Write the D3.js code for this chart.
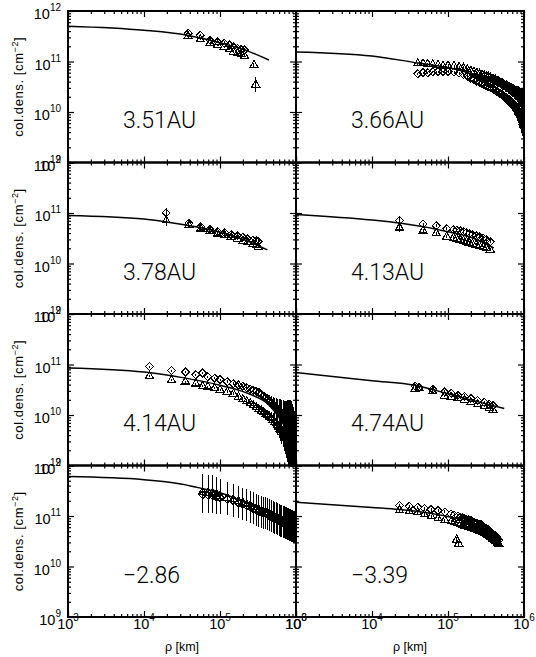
<!DOCTYPE html>
<html>
<head>
<meta charset="utf-8">
<script src="https://cdn.jsdelivr.net/npm/d3@7"></script>
<style>
body{margin:0;background:#fff}
text{font-family:"Liberation Sans",Arial,sans-serif;fill:#000}
.big{font-family:Roboto,"Liberation Sans",sans-serif;font-weight:300}
</style>
</head>
<body>
<svg id="chart" width="536" height="657"></svg>
<script>
// panel labels, left column then right column, row by row
const labels=["3.51AU","3.66AU","3.78AU","4.13AU","4.14AU","4.74AU","\u22122.86","\u22123.39"];

// column densities are log10 N [cm^-2], rho in km
// model curves
const curveRhoA=[1e3,1e4,3.7e4,1e5,2.2e5,4.4e5];
const curveNA=[11.70,11.62,11.52,11.37,11.22,11.03];
const curveRhoB=[1e3,1e4,4e4,1e5,2e5,4e5,7e5,1e6];
const curveNB=[11.19,11.11,10.97,10.88,10.76,10.58,10.36,10.05];
const curveRhoC=[1e3,1e4,2e4,1e5,2e5,4.2e5];
const curveNC=[10.95,10.88,10.82,10.62,10.48,10.27];
const curveRhoD=[1e3,1e4,2.3e4,1e5,2e5,4e5];
const curveND=[10.97,10.86,10.80,10.63,10.52,10.31];
const curveRhoE=[1e3,1e4,3.2e4,1e5,2.4e5,4.4e5,6e5,8e5,9.5e5];
const curveNE=[10.93,10.85,10.74,10.59,10.42,10.20,9.95,9.60,9.20];
const curveRhoF=[1e3,1e4,3.7e4,1e5,2.5e5,5.5e5];
const curveNF=[10.84,10.68,10.59,10.42,10.26,10.13];
const curveRhoG=[1e3,1e4,3.2e4,6e4,1e5,3e5,6e5,1e6];
const curveNG=[11.78,11.72,11.63,11.54,11.46,11.17,10.95,10.78];
const curveRhoH=[1e3,1e4,2.3e4,1e5,2e5,4.5e5];
const curveNH=[11.27,11.17,11.13,10.99,10.87,10.62];

// measured points: diamonds, triangles, error half-length (dex)
const rhoA=[3.8e4,5.5e4,7.4e4,9.3e4,1.14e5,1.33e5,1.5e5,1.7e5,1.9e5,2.1e5,2.8e5,2.95e5];
const diaA=[11.56,11.52,11.42,11.39,11.36,11.33,11.29,11.26,11.24,11.23,null,null];
const triA=[11.50,11.44,11.37,11.33,11.29,11.24,11.19,11.16,11.14,11.11,10.93,10.54];
const errA=[0.02,0.02,0.02,0.02,0.02,0.02,0.02,0.02,0.02,0.02,0.05,0.15];

const rhoB=[4.0e4,4.7e4,5.4e4,6.3e4,7.4e4,8.6e4,
  1.0e5,1.2e5,1.4e5,1.6e5,1.8e5,2.0e5,2.2e5,2.4e5,2.6e5,2.8e5,3.0e5,3.2e5,3.4e5,3.6e5,3.8e5,
  4.0e5,4.2e5,4.4e5,4.6e5,4.8e5,5.0e5,5.2e5,5.4e5,5.6e5,5.8e5,6.0e5,6.2e5,6.4e5,6.6e5,6.8e5,
  7.0e5,7.2e5,7.4e5,7.6e5,7.8e5,8.0e5,8.2e5,8.4e5,8.6e5,8.8e5,9.0e5,9.2e5,9.4e5,9.6e5,9.8e5];
const triB=[10.96,10.96,10.95,10.94,10.93,10.91,
  10.92,10.91,10.89,10.87,10.84,10.81,10.79,10.77,10.75,10.74,10.72,10.71,10.70,10.68,10.66,
  10.65,10.64,10.62,10.60,10.59,10.58,10.56,10.55,10.53,10.52,10.50,10.49,10.47,10.46,10.45,
  10.43,10.42,10.41,10.39,10.38,10.37,10.36,10.35,10.33,10.31,10.29,10.27,10.25,10.23,10.20];
const diaB=[10.76,10.78,10.78,10.80,10.80,10.80,
  10.80,10.79,10.77,10.74,10.71,10.67,10.64,10.61,10.58,10.56,10.54,10.52,10.50,10.49,10.47,
  10.45,10.43,10.41,10.39,10.37,10.35,10.33,10.31,10.29,10.27,10.25,10.23,10.21,10.19,10.17,
  10.15,10.13,10.11,10.09,10.07,10.05,10.03,10.01,9.97,9.93,9.89,9.85,9.80,9.75,9.70];
const errB=[0.02,0.02,0.02,0.02,0.02,0.02,
  0.03,0.03,0.03,0.04,0.04,0.04,0.05,0.05,0.05,0.06,0.06,0.06,0.07,0.07,0.07,
  0.08,0.08,0.08,0.09,0.09,0.09,0.10,0.10,0.10,0.11,0.11,0.11,0.12,0.12,0.12,
  0.13,0.13,0.13,0.14,0.14,0.14,0.15,0.16,0.17,0.18,0.19,0.20,0.21,0.22,0.23];

const rhoC=[1.96e4,3.9e4,5.6e4,7.3e4,9.3e4,1.15e5,1.4e5,1.7e5,2.0e5,2.3e5,2.7e5,3.0e5,3.2e5];
const diaC=[11.00,10.80,10.73,10.68,10.63,10.61,10.57,10.55,10.52,10.49,10.46,10.45,10.44];
const triC=[10.85,10.76,10.69,10.64,10.59,10.56,10.52,10.49,10.45,10.42,10.38,10.36,10.33];
const errC=[0.10,0.02,0.02,0.02,0.02,0.02,0.02,0.02,0.02,0.02,0.02,0.02,0.02];

const rhoD=[2.3e4,4.7e4,7.0e4,9.6e4,1.18e5,1.3e5,1.45e5,1.6e5,1.75e5,1.9e5,2.1e5,2.35e5,2.6e5,2.9e5,3.2e5,3.6e5];
const diaD=[10.85,10.78,10.75,10.69,10.67,10.66,10.65,10.63,10.61,10.59,10.57,10.55,10.53,10.50,10.47,10.43];
const triD=[10.71,10.65,10.60,10.53,10.51,10.49,10.47,10.45,10.43,10.41,10.39,10.37,10.35,10.32,10.30,10.27];
const errD=[0.08,0.03,0.03,0.03,0.03,0.03,0.03,0.03,0.03,0.03,0.03,0.03,0.03,0.03,0.03,0.03];

const rhoE=[1.18e4,2.3e4,3.5e4,4.8e4,5.9e4,6.9e4,8.5e4,
  1.0e5,1.25e5,1.5e5,1.75e5,2.0e5,2.25e5,2.5e5,2.75e5,3.0e5,3.25e5,3.5e5,3.75e5,
  4.0e5,4.25e5,4.5e5,4.75e5,5.0e5,5.25e5,5.5e5,5.75e5,6.0e5,6.25e5,6.5e5,6.75e5,
  7.0e5,7.25e5,7.5e5,7.75e5,8.0e5,8.25e5,8.5e5,8.75e5,9.0e5,9.25e5,9.5e5,9.75e5];
const diaE=[10.96,10.88,10.85,10.80,10.83,10.76,10.73,
  10.70,10.66,10.62,10.59,10.57,10.54,10.51,10.49,10.47,10.45,10.41,10.37,
  10.34,10.31,10.28,10.25,10.21,10.18,10.15,10.12,10.09,10.06,10.02,9.99,
  9.95,9.92,9.88,9.84,9.79,9.75,9.70,9.62,9.52,9.40,9.28,9.15];
const triE=[10.77,10.69,10.66,10.62,10.57,10.56,10.53,
  10.50,10.46,10.42,10.36,10.31,10.27,10.23,10.19,10.15,10.11,10.08,10.05,
  10.02,9.99,9.96,9.93,9.90,9.86,9.83,9.80,9.76,9.73,9.70,9.66,
  9.62,9.59,9.55,9.51,9.46,9.42,9.36,9.30,9.22,9.13,9.05,8.95];
const errE=[0.02,0.02,0.02,0.02,0.02,0.02,0.02,
  0.02,0.03,0.03,0.04,0.04,0.05,0.05,0.06,0.06,0.07,0.08,0.09,
  0.10,0.11,0.12,0.13,0.14,0.16,0.18,0.20,0.22,0.25,0.28,0.30,
  0.33,0.36,0.40,0.45,0.50,0.55,0.60,0.65,0.70,0.75,0.80,0.85];

const rhoF=[3.7e4,4.2e4,6.3e4,9.0e4,1.1e5,1.35e5,1.65e5,2.0e5,2.45e5,3.0e5,3.5e5,3.9e5];
const diaF=[10.57,10.55,10.51,10.46,10.43,10.39,10.37,10.33,10.29,10.25,10.21,10.19];
const triF=[10.52,10.53,10.47,10.38,10.36,10.33,10.30,10.25,10.21,10.17,10.14,10.10];
const errF=[0.02,0.02,0.02,0.02,0.02,0.02,0.02,0.02,0.02,0.02,0.03,0.05];

const rhoG=[5.9e4,7.0e4,8.0e4,9.0e4,
  1.0e5,1.25e5,1.5e5,1.75e5,2.0e5,2.25e5,2.5e5,2.75e5,3.0e5,3.25e5,3.5e5,3.75e5,
  4.0e5,4.25e5,4.5e5,4.75e5,5.0e5,5.25e5,5.5e5,5.75e5,6.0e5,6.25e5,6.5e5,6.75e5,
  7.0e5,7.25e5,7.5e5,7.75e5,8.0e5,8.25e5,8.5e5,8.75e5,9.0e5,9.25e5,9.5e5,9.75e5];
const diaG=[11.42,11.41,11.40,11.38,
  11.37,11.33,11.30,11.26,11.23,11.20,11.17,11.14,11.11,11.09,11.07,11.05,
  11.04,11.02,11.00,10.98,10.97,10.95,10.94,10.92,10.91,10.89,10.88,10.87,
  10.86,10.85,10.84,10.83,10.82,10.81,10.80,10.79,10.78,10.77,10.76,10.75];
const triG=[11.48,11.46,11.46,11.43,
  11.40,11.36,11.33,11.29,11.26,11.23,11.20,11.17,11.14,11.12,11.10,11.08,
  11.07,11.05,11.03,11.01,11.00,10.98,10.97,10.95,10.94,10.92,10.91,10.90,
  10.89,10.88,10.87,10.86,10.85,10.84,10.83,10.82,10.81,10.80,10.79,10.78];
const errG=[0.36,0.36,0.35,0.34,
  0.33,0.32,0.31,0.30,0.30,0.30,0.30,0.30,0.30,0.30,0.30,0.30,
  0.30,0.30,0.30,0.30,0.30,0.30,0.30,0.30,0.30,0.30,0.30,0.30,
  0.30,0.30,0.30,0.30,0.30,0.30,0.30,0.30,0.30,0.30,0.30,0.30];

const rhoH=[2.3e4,3.1e4,4.0e4,4.9e4,6.0e4,7.4e4,9.1e4,1.1e5,1.2e5,1.3e5,1.35e5,1.38e5,1.45e5,1.55e5,1.65e5,
  1.75e5,1.85e5,1.95e5,2.05e5,2.15e5,2.25e5,2.35e5,2.45e5,2.55e5,2.65e5,
  2.75e5,2.85e5,2.95e5,3.05e5,3.15e5,3.25e5,3.35e5,3.45e5,3.55e5,3.65e5,
  3.75e5,3.85e5,3.95e5,4.05e5,4.15e5,4.25e5,4.35e5,4.45e5,4.55e5,4.65e5];
const diaH=[11.21,11.19,11.17,11.15,11.13,11.11,11.08,11.04,11.02,null,11.00,null,10.98,10.96,10.94,
  10.93,10.92,10.91,10.90,10.88,10.87,10.86,10.85,10.84,10.83,
  10.82,10.80,10.79,10.77,10.76,10.74,10.73,10.71,10.70,10.68,
  10.67,10.65,10.64,10.62,10.61,10.59,10.58,10.56,10.54,10.52];
const triH=[11.11,11.09,11.07,11.03,10.99,10.95,10.92,10.89,10.87,10.53,10.85,10.45,10.83,10.81,10.80,
  10.79,10.78,10.77,10.76,10.75,10.74,10.74,10.73,10.72,10.71,
  10.70,10.69,10.68,10.67,10.66,10.64,10.63,10.62,10.60,10.59,
  10.58,10.56,10.55,10.54,10.52,10.51,10.50,10.48,10.46,10.45];
const errH=[0.03,0.03,0.03,0.03,0.03,0.03,0.03,0.03,0.03,0.06,0.03,0.06,0.03,0.03,0.03,
  0.04,0.04,0.04,0.04,0.04,0.04,0.04,0.04,0.04,0.04,
  0.04,0.04,0.04,0.04,0.04,0.04,0.04,0.04,0.04,0.04,
  0.04,0.04,0.04,0.04,0.04,0.04,0.04,0.04,0.04,0.04];

const xTicks=[1e3,1e4,1e5,1e6];
const yTicks=[1e9,1e10,1e11,1e12];

const panels=[
  {curve:[curveRhoA,curveNA],rho:rhoA,dia:diaA,tri:triA,err:errA},
  {curve:[curveRhoB,curveNB],rho:rhoB,dia:diaB,tri:triB,err:errB},
  {curve:[curveRhoC,curveNC],rho:rhoC,dia:diaC,tri:triC,err:errC},
  {curve:[curveRhoD,curveND],rho:rhoD,dia:diaD,tri:triD,err:errD},
  {curve:[curveRhoE,curveNE],rho:rhoE,dia:diaE,tri:triE,err:errE},
  {curve:[curveRhoF,curveNF],rho:rhoF,dia:diaF,tri:triF,err:errF},
  {curve:[curveRhoG,curveNG],rho:rhoG,dia:diaG,tri:triG,err:errG},
  {curve:[curveRhoH,curveNH],rho:rhoH,dia:diaH,tri:triH,err:errH}
].map((p,i)=>({...p,label:labels[i],col:i%2,row:Math.floor(i/2)}));

const svg=d3.select("#chart");
const defs=svg.append("defs");
const mLeft=68,mTop=11,pw=228,ph=151.5;

const isMajor=v=>Math.abs(Math.log10(v)-Math.round(Math.log10(v)))<1e-6;
const diamond=d3.symbol().type(d3.symbolDiamond2).size(40);
const triangle=d3.symbol().type(d3.symbolTriangle).size(28);

function supLabel(sel,base,exp,dy,fs){
  sel.append("tspan").text(base);
  sel.append("tspan").attr("dy",dy).attr("font-size",fs).text(exp);
}

panels.forEach((p,i)=>{
  const x0=mLeft+p.col*pw,y0=mTop+p.row*ph;
  const x=d3.scaleLog().domain([1e3,1e6]).range([x0,x0+pw]);
  const y=d3.scaleLog().domain([1e9,1e12]).range([y0+ph,y0]);

  defs.append("clipPath").attr("id","clip"+i).append("rect")
    .attr("x",x0).attr("y",y0).attr("width",pw).attr("height",ph);
  const g=svg.append("g").attr("clip-path",`url(#clip${i})`);

  const [cr,cn]=p.curve;
  g.append("path")
    .datum(cr.map((r,j)=>[r,10**cn[j]]))
    .attr("fill","none").attr("stroke","#000").attr("stroke-width",1.5)
    .attr("d",d3.line().x(d=>x(d[0])).y(d=>y(d[1])).curve(d3.curveMonotoneX));

  const pts=[];
  p.rho.forEach((r,j)=>{
    if(p.dia[j]!=null) pts.push({r,v:p.dia[j],e:p.err[j],s:"d"});
    if(p.tri[j]!=null) pts.push({r,v:p.tri[j],e:p.err[j],s:"t"});
  });

  g.selectAll(".err").data(pts).join("line")
    .attr("x1",d=>x(d.r)).attr("x2",d=>x(d.r))
    .attr("y1",d=>y(10**(d.v+d.e))).attr("y2",d=>y(10**(d.v-d.e)))
    .attr("stroke","#000").attr("stroke-width",1)
    .attr("shape-rendering","crispEdges");

  g.selectAll(".sym").data(pts).join("path")
    .attr("transform",d=>`translate(${x(d.r)},${y(10**d.v)})`)
    .attr("d",d=>d.s==="d"?diamond():triangle())
    .attr("fill","none").attr("stroke","#000").attr("stroke-width",1.1)
    .attr("shape-rendering","crispEdges");

  // ticks on all four sides, pointing inward
  const minX=x.ticks().filter(v=>!isMajor(v));
  const minY=y.ticks().filter(v=>!isMajor(v));
  const axes=[
    [d3.axisTop(x),`translate(0,${y0+ph})`,xTicks,minX],
    [d3.axisBottom(x),`translate(0,${y0})`,xTicks,minX],
    [d3.axisRight(y),`translate(${x0},0)`,yTicks,minY],
    [d3.axisLeft(y),`translate(${x0+pw},0)`,yTicks,minY]
  ];
  axes.forEach(([ax,tr,maj,min])=>{
    [[maj,6],[min,3]].forEach(([vals,len])=>{
      svg.append("g").attr("transform",tr)
        .call(ax.tickValues(vals).tickSize(len).tickFormat(""))
        .call(a=>a.select(".domain").remove())
        .call(a=>a.selectAll("line").attr("stroke-width",1.2));
    });
  });

  svg.append("rect").attr("x",x0).attr("y",y0).attr("width",pw).attr("height",ph)
    .attr("fill","none").attr("stroke","#000").attr("stroke-width",2);

  svg.append("text").attr("class","big")
    .attr("x",x0+55).attr("y",y0+117)
    .attr("font-size",23).text(p.label);

  if(p.col===0){
    yTicks.forEach(v=>{
      const t=svg.append("text").attr("x",x0-7).attr("y",y(v)+8)
        .attr("text-anchor","end").attr("font-size",14.5);
      supLabel(t,"10",String(Math.round(Math.log10(v))),-8,10);
    });
    const yt=svg.append("text")
      .attr("transform",`translate(23,${y0+ph/2}) rotate(-90)`)
      .attr("text-anchor","middle").attr("font-size",13).attr("letter-spacing",0.6);
    yt.append("tspan").text("col.dens. [cm");
    yt.append("tspan").attr("dy",-5).attr("font-size",9).text("\u22122");
    yt.append("tspan").attr("dy",5).text("]");
  }
  if(p.row===3){
    xTicks.forEach(v=>{
      const t=svg.append("text").attr("x",x(v)).attr("y",y0+ph+12)
        .attr("text-anchor","middle").attr("font-size",14.5);
      supLabel(t,"10",String(Math.round(Math.log10(v))),-8,10);
    });
    svg.append("text").attr("x",x0+pw/2).attr("y",651)
      .attr("text-anchor","middle").attr("font-size",12.5)
      .text("\u03c1 [km]");
  }
});
</script>
</body>
</html>
